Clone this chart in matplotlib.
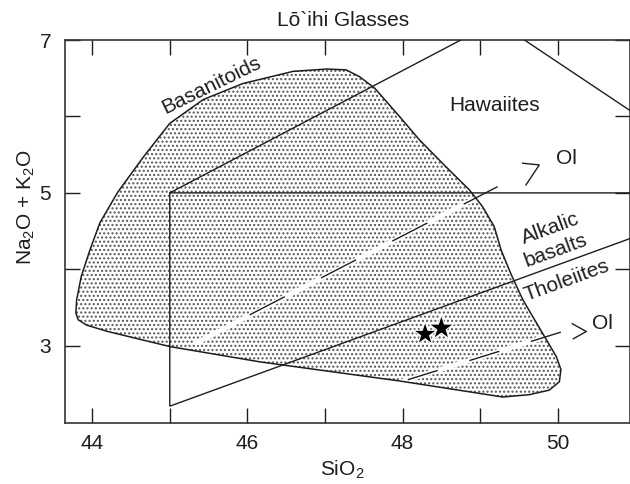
import numpy as np
import matplotlib.pyplot as plt
from matplotlib.patches import Polygon

plt.rcParams['font.family'] = ['Liberation Sans', 'DejaVu Sans']
plt.rcParams['mathtext.fontset'] = 'custom'
plt.rcParams['mathtext.rm'] = 'Liberation Sans'
plt.rcParams['lines.scale_dashes'] = False
plt.rcParams['hatch.linewidth'] = 1.0

#---------data------
# outline of the field of Loihi glass compositions
field_sio2 = [47.02, 47.27, 47.445, 47.64, 47.96, 48.22, 48.56, 48.86, 49.03, 49.18,
              49.27, 49.40, 49.55, 49.80, 49.98, 50.04, 50.02, 49.89, 49.63, 49.29,
              47.96, 46.16, 45.00, 44.19, 43.93, 43.82, 43.79, 43.80, 43.86, 43.97,
              44.10, 44.33, 44.66, 45.00, 45.43, 45.94, 46.59]
field_alk = [6.62, 6.61, 6.52, 6.37, 6.00, 5.69, 5.34, 5.04, 4.82, 4.56,
             4.25, 3.93, 3.60, 3.17, 2.86, 2.69, 2.53, 2.42, 2.36, 2.33,
             2.54, 2.79, 2.99, 3.19, 3.27, 3.34, 3.43, 3.60, 3.91, 4.25,
             4.61, 5.01, 5.47, 5.91, 6.22, 6.43, 6.59]

# classification boundaries
box_sio2 = [50.95, 45.0, 45.0, 50.95]
box_alk = [5.0, 5.0, 2.21, 4.41]
basanitoid_sio2 = [45.0, 48.75]
basanitoid_alk = [5.0, 7.0]
hawaiite_sio2 = [49.57, 50.95]
hawaiite_alk = [7.0, 6.064]

# olivine control lines (white start, first dash, end)
ol_hi_sio2 = [45.35, 46.03, 49.225]
ol_hi_alk = [3.04, 3.405, 5.082]
ol_lo_sio2 = [47.95, 48.067, 50.041]
ol_lo_alk = [2.52, 2.556, 3.179]
arrow_hi_sio2 = [49.547, 49.761, 49.59]
arrow_hi_alk = [5.388, 5.366, 5.105]
arrow_lo_sio2 = [50.187, 50.367, 50.20]
arrow_lo_alk = [3.288, 3.187, 3.092]

# the two glasses marked with stars (back one first)
star_sio2 = [48.50, 48.29]
star_alk = [3.231, 3.153]

ink = '#1e1e1e'
fs = 15

fig = plt.figure(figsize=(6.3, 4.84), dpi=100)
ax = fig.add_axes([65/630, 61/484, 565/630, 383/484])
ax.set_xlim(43.65, 50.93)
ax.set_ylim(1.99, 7.0)

#---------stippled field------
pts = np.column_stack([field_sio2, field_alk])
ax.add_patch(Polygon(pts, closed=True, facecolor='white', edgecolor='#555555',
                     lw=0, hatch='....', zorder=1))
ax.add_patch(Polygon(pts, closed=True, fill=False, edgecolor=ink, lw=1.1, zorder=3))

#---------boundaries------
for xs, ys in [(box_sio2, box_alk), (basanitoid_sio2, basanitoid_alk),
               (hawaiite_sio2, hawaiite_alk)]:
    ax.plot(xs, ys, color=ink, lw=1.0, zorder=3, solid_joinstyle='miter')

#---------olivine lines------
ax.plot([ol_hi_sio2[0], ol_hi_sio2[2]], [ol_hi_alk[0], ol_hi_alk[2]], color='white', lw=3.5, zorder=2)
ax.plot(ol_hi_sio2[1:], ol_hi_alk[1:], color=ink, lw=1.0, dashes=(28.4, 29.4), zorder=3)
ax.plot([ol_lo_sio2[0], ol_lo_sio2[2]], [ol_lo_alk[0], ol_lo_alk[2]], color='white', lw=3.5, zorder=2)
ax.plot(ol_lo_sio2[1:], ol_lo_alk[1:], color=ink, lw=1.0, dashes=(22.6, 23.8), zorder=3)
ax.plot(arrow_hi_sio2, arrow_hi_alk, color=ink, lw=1.0, zorder=3)
ax.plot(arrow_lo_sio2, arrow_lo_alk, color=ink, lw=1.0, zorder=3)

#---------stars------
ax.scatter(star_sio2, star_alk, marker='*', s=[360, 320], c='black',
           edgecolors='white', linewidths=0.8, zorder=5)

#---------labels in the plot------
ax.text(45.54, 6.41, 'Basanitoids', fontsize=fs, rotation=26, ha='center', va='center', color=ink)
ax.text(49.18, 6.14, 'Hawaiites', fontsize=fs, ha='center', va='center', color=ink)
ax.text(50.11, 5.45, 'Ol', fontsize=fs, ha='center', va='center', color=ink)
ax.text(50.57, 3.29, 'Ol', fontsize=fs, ha='center', va='center', color=ink)
ax.text(49.90, 4.53, 'Alkalic', fontsize=fs, rotation=20, ha='center', va='center', color=ink)
ax.text(49.98, 4.24, 'basalts', fontsize=fs, rotation=20, ha='center', va='center', color=ink)
ax.text(50.11, 3.86, 'Tholeiites', fontsize=fs, rotation=20, ha='center', va='center', color=ink)

#---------axes------
ax.set_xticks([44, 45, 46, 47, 48, 49, 50])
ax.set_xticklabels(['44', '', '46', '', '48', '', '50'])
ax.set_yticks([3, 4, 5, 6, 7])
ax.set_yticklabels(['3', '', '5', '', '7'])
ax.tick_params(direction='in', length=11, width=1.0, color=ink, labelcolor=ink,
               labelsize=fs, top=True, right=True)
ax.tick_params(axis='x', pad=8)
ax.tick_params(axis='y', pad=10)
for s in ax.spines.values():
    s.set_linewidth(1.2)
    s.set_color('#333333')

fig.text(343/630, 1 - 21/484, 'Lō`ihi Glasses', fontsize=fs, ha='center', va='center', color=ink)
fig.text(342/630, 1 - 470/484, r'SiO$_\mathregular{2}$', fontsize=fs, ha='center', va='center', color=ink)
fig.text(26/630, 1 - 207/484, r'Na$_\mathregular{2}$O + K$_\mathregular{2}$O', fontsize=fs,
         rotation=90, ha='center', va='center', color=ink)

fig.savefig('out.png', dpi=100)
